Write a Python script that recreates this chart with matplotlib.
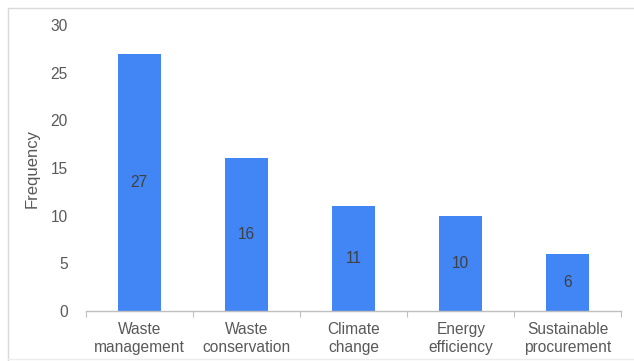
import matplotlib
matplotlib.use("Agg")
import matplotlib.pyplot as plt
from matplotlib.lines import Line2D

categories = ["Waste\nmanagement", "Waste\nconservation", "Climate\nchange",
              "Energy\nefficiency", "Sustainable\nprocurement"]
frequency = [27, 16, 11, 10, 6]
y_ticks = [0, 5, 10, 15, 20, 25, 30]

plt.rcParams["font.family"] = ["Liberation Sans", "DejaVu Sans"]
text_color = "#595959"
bar_color = "#4285F4"
fs = 11.2

W, H = 634, 361
fig = plt.figure(figsize=(W / 100, H / 100), dpi=100)

# light frame along the top, left and bottom of the chart area
frame = dict(transform=fig.transFigure, color="#d9d9d9", linewidth=1.0)
fig.lines.append(Line2D([7.5 / W, 7.5 / W], [0, 1 - 7.5 / H], **frame))
fig.lines.append(Line2D([7.5 / W, 1], [1 - 7.5 / H, 1 - 7.5 / H], **frame))
fig.lines.append(Line2D([7.5 / W, 1], [2.5 / H, 2.5 / H],
                        transform=fig.transFigure, color="#ececec", linewidth=1.0))

left, right, bottom, top = 85.7, 621.5, 311, 25
ax = fig.add_axes([left / W, 1 - bottom / H, (right - left) / W, (bottom - top) / H])
x = list(range(len(categories)))
ax.bar(x, frequency, width=0.4, color=bar_color, zorder=2)

for xi, v in zip(x, frequency):
    ax.text(xi, v / 2, str(v), ha="center", va="center",
            fontsize=fs, color="#404040")

ax.set_xlim(-0.5, len(categories) - 0.5)
ax.set_ylim(0, 30)
ax.set_yticks(y_ticks)
ax.tick_params(axis="y", length=0, pad=13, labelsize=fs, labelcolor=text_color)

# boundary ticks on the category axis, labels centred under the bars
ax.set_xticks([i - 0.5 for i in range(len(categories) + 1)])
ax.set_xticklabels([])
ax.tick_params(axis="x", which="major", length=4, color="#bfbfbf", direction="out")
ax.set_xticks(x, minor=True)
ax.set_xticklabels(categories, minor=True, fontsize=fs, color=text_color,
                   linespacing=1.2)
ax.tick_params(axis="x", which="minor", length=0, pad=8)

for side in ["top", "right", "left"]:
    ax.spines[side].set_visible(False)
ax.spines["bottom"].set_color("#bfbfbf")
ax.spines["bottom"].set_linewidth(1.0)

ax.set_ylabel("Frequency", fontsize=12, color=text_color)
ax.yaxis.set_label_coords((40 - left) / (right - left), 0.5)

fig.savefig("out.png", dpi=100)
